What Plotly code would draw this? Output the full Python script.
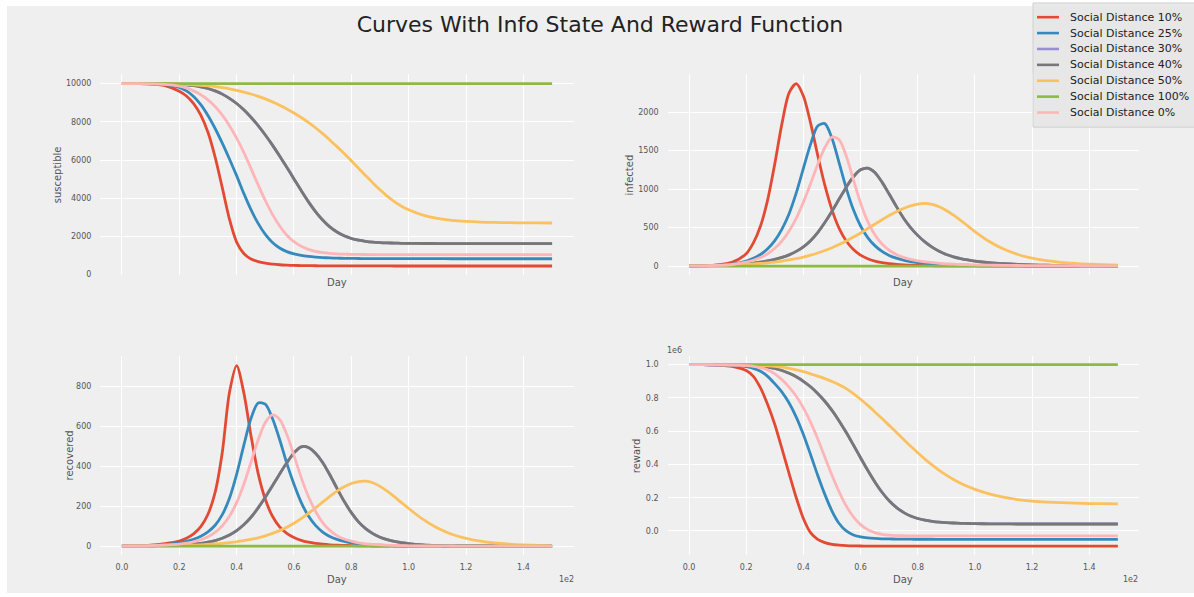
import plotly.graph_objects as go

# ---------------------------------------------------------------------------
# Data
# ---------------------------------------------------------------------------
# Day grid (finer between day 20 and day 100 where the curves move fastest)
days = [0, 5, 10, 15, 20, 22.5, 25, 27.5, 30, 32.5, 35, 37.5, 40, 42.5, 45, 47.5,
        50, 52.5, 55, 57.5, 60, 62.5, 65, 67.5, 70, 72.5, 75, 77.5, 80, 82.5, 85,
        87.5, 90, 92.5, 95, 97.5, 100, 105, 110, 115, 120, 125, 130, 135, 140, 145, 150]

scenarios = ["Social Distance 10%", "Social Distance 25%", "Social Distance 30%",
             "Social Distance 40%", "Social Distance 50%", "Social Distance 100%",
             "Social Distance 0%"]

# susceptible
susceptible_10 = [10000, 9996, 9980, 9900, 9600, 9350, 8950, 8350, 7450, 6150, 4550, 2900,
                  1700, 1100, 820, 680, 600, 550, 515, 495, 480, 472, 466, 462, 459, 457,
                  455, 454, 453, 452, 452, 451, 451, 451, 450, 450, 450, 450, 450, 450, 450,
                  450, 450, 450, 450, 450, 450]
susceptible_25 = [10000, 9998, 9990, 9950, 9800, 9620, 9330, 8900, 8330, 7650, 6880, 6050,
                  5180, 4250, 3400, 2680, 2100, 1680, 1390, 1200, 1080, 1000, 950, 915, 890,
                  872, 860, 852, 846, 842, 839, 837, 835, 834, 833, 832, 832, 831, 831, 830,
                  830, 830, 830, 830, 830, 830, 830]
susceptible_40 = [10000, 9999, 9996, 9985, 9960, 9935, 9895, 9835, 9745, 9620, 9450, 9230,
                  8960, 8630, 8240, 7800, 7310, 6780, 6210, 5620, 5010, 4400, 3820, 3300,
                  2860, 2500, 2230, 2030, 1890, 1800, 1740, 1700, 1675, 1658, 1647, 1639,
                  1634, 1628, 1625, 1623, 1622, 1621, 1620, 1620, 1620, 1620, 1620]
susceptible_30 = susceptible_40
susceptible_50 = [10000, 9999, 9996, 9988, 9970, 9955, 9935, 9910, 9878, 9838, 9788, 9726,
                  9650, 9560, 9455, 9335, 9200, 9045, 8870, 8675, 8460, 8225, 7970, 7690,
                  7380, 7050, 6700, 6340, 5960, 5570, 5180, 4800, 4440, 4110, 3820, 3580,
                  3390, 3110, 2940, 2840, 2785, 2750, 2730, 2717, 2709, 2704, 2700]
susceptible_100 = [10000] * 47
susceptible_0 = [10000, 9998, 9992, 9965, 9870, 9770, 9620, 9420, 9150, 8800, 8350, 7800,
                 7150, 6400, 5560, 4700, 3880, 3150, 2540, 2060, 1720, 1480, 1320, 1215,
                 1150, 1110, 1085, 1070, 1060, 1054, 1050, 1047, 1045, 1044, 1043, 1042,
                 1042, 1041, 1041, 1040, 1040, 1040, 1040, 1040, 1040, 1040, 1040]

# infected
infected_10 = [2, 5, 15, 48, 160, 300, 520, 860, 1330, 1850, 2250, 2370, 2210, 1860, 1440,
               1050, 730, 490, 325, 215, 142, 95, 64, 44, 30, 21, 15, 11, 8, 6, 4, 3, 2, 2,
               1, 1, 1, 0, 0, 0, 0, 0, 0, 0, 0, 0, 0]
infected_25 = [2, 4, 10, 26, 65, 100, 150, 225, 330, 480, 680, 950, 1270, 1580, 1820, 1850,
               1660, 1340, 1010, 730, 520, 370, 265, 190, 138, 102, 76, 58, 45, 35, 28, 22,
               18, 15, 12, 10, 9, 7, 5, 4, 3, 2, 2, 1, 1, 1, 1]
infected_40 = [1, 3, 7, 15, 28, 38, 50, 66, 86, 112, 145, 190, 250, 330, 435, 565, 712, 870,
               1025, 1160, 1250, 1272, 1215, 1090, 935, 775, 625, 500, 398, 313, 246, 192,
               150, 120, 97, 79, 64, 43, 30, 21, 15, 11, 8, 6, 5, 4, 3]
infected_30 = infected_40
infected_50 = [1, 2, 5, 11, 22, 27, 34, 42, 52, 64, 79, 96, 117, 141, 169, 201, 238, 279,
               325, 376, 430, 487, 545, 602, 656, 706, 748, 781, 803, 813, 800, 770, 722,
               662, 594, 521, 448, 318, 220, 150, 102, 70, 48, 33, 23, 17, 12]
infected_100 = [0] * 47
infected_0 = [2, 3, 8, 20, 50, 75, 110, 160, 230, 325, 455, 620, 830, 1070, 1320, 1540,
              1675, 1640, 1430, 1120, 820, 580, 405, 285, 205, 150, 112, 86, 67, 53, 43, 35,
              29, 24, 20, 17, 15, 11, 9, 7, 6, 5, 4, 4, 3, 3, 3]

# recovered
recovered_10 = [1, 2, 5, 13, 26, 40, 62, 98, 160, 270, 470, 770, 905, 770, 555, 365, 235,
                150, 97, 64, 43, 29, 20, 14, 10, 7, 5, 4, 3, 2, 2, 1, 1, 1, 1, 0, 0, 0, 0, 0,
                0, 0, 0, 0, 0, 0, 0]
recovered_25 = [1, 2, 4, 8, 16, 24, 35, 50, 72, 105, 158, 240, 360, 505, 640, 718, 712, 640,
                535, 415, 310, 220, 152, 104, 71, 49, 34, 24, 17, 12, 9, 7, 5, 4, 3, 2, 2,
                1, 1, 0, 0, 0, 0, 0, 0, 0, 0]
recovered_40 = [0, 1, 2, 3, 5, 7, 10, 14, 20, 28, 40, 56, 78, 107, 145, 192, 245, 303, 362,
                418, 468, 498, 495, 466, 420, 358, 290, 225, 168, 122, 88, 63, 45, 33, 24,
                18, 13, 7, 4, 2, 1, 1, 1, 0, 0, 0, 0]
recovered_30 = recovered_40
recovered_50 = [0, 1, 1, 2, 3, 4, 5, 7, 9, 11, 14, 18, 22, 28, 34, 42, 52, 64, 78, 95, 115,
                138, 164, 192, 221, 250, 276, 298, 314, 324, 326, 318, 300, 276, 248, 218,
                189, 134, 91, 60, 39, 25, 16, 10, 6, 4, 2]
recovered_100 = [0] * 47
recovered_0 = [1, 1, 3, 6, 10, 15, 22, 32, 47, 69, 102, 150, 218, 310, 420, 532, 620, 658,
               635, 560, 455, 345, 250, 175, 118, 79, 53, 36, 25, 17, 12, 9, 7, 5, 4, 3, 2,
               1, 1, 1, 0, 0, 0, 0, 0, 0, 0]

# reward, in units of 1e6
reward_10 = [1.0, 1.0, 0.998, 0.99, 0.965, 0.93, 0.86, 0.76, 0.64, 0.495, 0.345, 0.2,
             0.075, -0.01, -0.05, -0.07, -0.08, -0.085, -0.088, -0.0895, -0.0903, -0.0908,
             -0.0911, -0.0913, -0.0914, -0.0915, -0.0915, -0.0915, -0.0915, -0.0915,
             -0.0915, -0.0915, -0.0915, -0.0915, -0.0915, -0.0915, -0.0915, -0.0915,
             -0.0915, -0.0915, -0.0915, -0.0915, -0.0915, -0.0915, -0.0915, -0.0915,
             -0.0915]
reward_25 = [1.0, 1.0, 0.999, 0.997, 0.988, 0.978, 0.96, 0.93, 0.885, 0.835, 0.77, 0.685,
             0.58, 0.46, 0.335, 0.22, 0.12, 0.045, 0.0, -0.024, -0.036, -0.042, -0.045,
             -0.047, -0.048, -0.0487, -0.0492, -0.0495, -0.0497, -0.0498, -0.0499, -0.05,
             -0.05, -0.05, -0.05, -0.05, -0.05, -0.05, -0.05, -0.05, -0.05, -0.05, -0.05,
             -0.05, -0.05, -0.05, -0.05]
reward_40 = [1.0, 1.0, 0.999, 0.998, 0.996, 0.994, 0.99, 0.985, 0.977, 0.965, 0.948, 0.927,
             0.9, 0.867, 0.827, 0.78, 0.725, 0.662, 0.592, 0.517, 0.44, 0.365, 0.295, 0.233,
             0.182, 0.142, 0.112, 0.09, 0.075, 0.065, 0.058, 0.053, 0.05, 0.048, 0.046,
             0.045, 0.044, 0.043, 0.0425, 0.042, 0.042, 0.042, 0.042, 0.042, 0.042, 0.042,
             0.042]
reward_30 = reward_40
reward_50 = [1.0, 1.0, 1.0, 0.999, 0.998, 0.997, 0.995, 0.993, 0.99, 0.985, 0.978, 0.969,
             0.958, 0.945, 0.931, 0.916, 0.899, 0.879, 0.856, 0.826, 0.792, 0.755, 0.716,
             0.676, 0.635, 0.593, 0.551, 0.51, 0.47, 0.432, 0.397, 0.365, 0.336, 0.31,
             0.287, 0.267, 0.25, 0.223, 0.203, 0.189, 0.18, 0.174, 0.17, 0.167, 0.165,
             0.164, 0.163]
reward_100 = [1.0] * 47
reward_0 = [1.0, 1.0, 0.999, 0.998, 0.994, 0.99, 0.982, 0.968, 0.945, 0.91, 0.865, 0.81,
            0.74, 0.655, 0.555, 0.445, 0.335, 0.235, 0.15, 0.085, 0.038, 0.008, -0.01,
            -0.02, -0.025, -0.0275, -0.0288, -0.0294, -0.0297, -0.0299, -0.03, -0.03,
            -0.03, -0.03, -0.03, -0.03, -0.03, -0.03, -0.03, -0.03, -0.03, -0.03, -0.03,
            -0.03, -0.03, -0.03, -0.03]

x_tick_vals = [0, 20, 40, 60, 80, 100, 120, 140]
x_tick_text = ["0.0", "0.2", "0.4", "0.6", "0.8", "1.0", "1.2", "1.4"]

# ---------------------------------------------------------------------------
# Styling
# ---------------------------------------------------------------------------
W, H = 1194, 597
FONT = "DejaVu Sans"
colors = ["#E24A33", "#348ABD", "#988ED5", "#777777", "#FBC15E", "#8EBA42", "#FFB5B8"]
LINE_W = 2.8


def px(x):
    return x / W


def py(y):
    return 1 - y / H


panels = [
    # (series list, y-range, y label, y ticks)
    ([susceptible_10, susceptible_25, susceptible_30, susceptible_40,
      susceptible_50, susceptible_100, susceptible_0],
     [-30, 10478], "susceptible", [0, 2000, 4000, 6000, 8000, 10000]),
    ([infected_10, infected_25, infected_30, infected_40,
      infected_50, infected_100, infected_0],
     [-118.5, 2488.5], "infected", [0, 500, 1000, 1500, 2000]),
    ([recovered_10, recovered_25, recovered_30, recovered_40,
      recovered_50, recovered_100, recovered_0],
     [-45.5, 955.5], "recovered", [0, 200, 400, 600, 800]),
    ([reward_10, reward_25, reward_30, reward_40,
      reward_50, reward_100, reward_0],
     [-0.146, 1.0546], "reward", [0.0, 0.2, 0.4, 0.6, 0.8, 1.0]),
]

# pixel boxes of the four axes: (left, right, top, bottom)
boxes = [
    (100.4, 573.6, 75, 277),
    (667.6, 1139.3, 75, 277),
    (100.4, 573.6, 358, 559),
    (667.6, 1139.3, 358, 559),
]

fig = go.Figure()
layout = {}
annotations = []

for i, ((series, yr, ylab, yt), box) in enumerate(zip(panels, boxes)):
    n = "" if i == 0 else str(i + 1)
    xa, ya = "x" + n, "y" + n
    for name, col, vals in zip(scenarios, colors, series):
        fig.add_trace(go.Scatter(
            x=days, y=vals, name=name, mode="lines", xaxis=xa, yaxis=ya,
            line=dict(color=col, width=LINE_W, shape="spline", smoothing=0.8),
            showlegend=False, hoverinfo="skip"))
    left, right, top, bottom = box
    bottom_row = i >= 2
    layout["xaxis" + n] = dict(
        domain=[px(left), px(right)], anchor=ya, range=[-7.5, 157.5],
        tickvals=x_tick_vals, ticktext=x_tick_text, showticklabels=bottom_row,
        ticks="", ticklabelstandoff=6, showgrid=True, gridcolor="white",
        gridwidth=1, zeroline=False, showline=False,
        tickfont=dict(family=FONT, size=8, color="#555555"))
    ytext = [f"{v:.1f}" for v in yt] if i == 3 else [str(v) for v in yt]
    layout["yaxis" + n] = dict(
        domain=[py(bottom), py(top)], anchor=xa, range=yr,
        tickvals=yt, ticktext=ytext, ticks="", ticklabelstandoff=8,
        showgrid=True, gridcolor="white", gridwidth=1, zeroline=False,
        showline=False, tickfont=dict(family=FONT, size=8, color="#555555"))
    # axis titles
    cx = (left + right) / 2
    day_y = 284 if not bottom_row else 583
    annotations.append(dict(x=px(cx), y=py(day_y), xref="paper", yref="paper",
                            text="Day", showarrow=False, xanchor="center",
                            yanchor="middle",
                            font=dict(family=FONT, size=10, color="#555555")))
    ylab_x = {0: 57.5, 1: 629.6, 2: 69, 3: 636.8}[i]
    annotations.append(dict(x=px(ylab_x), y=py((top + bottom) / 2), xref="paper",
                            yref="paper", text=ylab, textangle=-90, showarrow=False,
                            xanchor="center", yanchor="middle",
                            font=dict(family=FONT, size=10, color="#555555")))

# axis offset labels
for (tx, ty, txt) in [(566, 583, "1e2"), (1130.6, 583, "1e2"), (674.8, 353, "1e6")]:
    annotations.append(dict(x=px(tx), y=py(ty), xref="paper", yref="paper", text=txt,
                            showarrow=False, xanchor="center", yanchor="middle",
                            font=dict(family=FONT, size=8, color="#555555")))

# background panel and figure legend
shapes = [
    dict(type="rect", xref="paper", yref="paper", x0=px(7), x1=1, y0=0, y1=py(6),
         fillcolor="#efefef", line=dict(width=0), layer="below"),
    dict(type="rect", xref="paper", yref="paper", x0=px(1033), x1=px(1200),
         y0=py(128), y1=py(3), fillcolor="rgba(229,229,229,0.85)",
         line=dict(color="#d0d0d0", width=1), layer="above"),
]
for k, (name, col) in enumerate(zip(scenarios, colors)):
    yy = 17.3 + k * 16
    shapes.append(dict(type="line", xref="paper", yref="paper", x0=px(1037), x1=px(1059),
                       y0=py(yy), y1=py(yy), line=dict(color=col, width=2.6),
                       layer="above"))
    annotations.append(dict(x=px(1068), y=py(yy), xref="paper", yref="paper", text=name,
                            showarrow=False, xanchor="left", yanchor="middle",
                            font=dict(family=FONT, size=11, color="#222222")))

fig.update_layout(
    width=W, height=H, margin=dict(l=0, r=0, t=0, b=0),
    paper_bgcolor="white", plot_bgcolor="#e5e5e5",
    font=dict(family=FONT),
    title=dict(text="Curves With Info State And Reward Function", x=0.5025,
               xanchor="center", y=py(24), yanchor="middle",
               font=dict(family=FONT, size=22, color="#222222")),
    showlegend=False, annotations=annotations, shapes=shapes, **layout)

fig.write_html("out.html")
